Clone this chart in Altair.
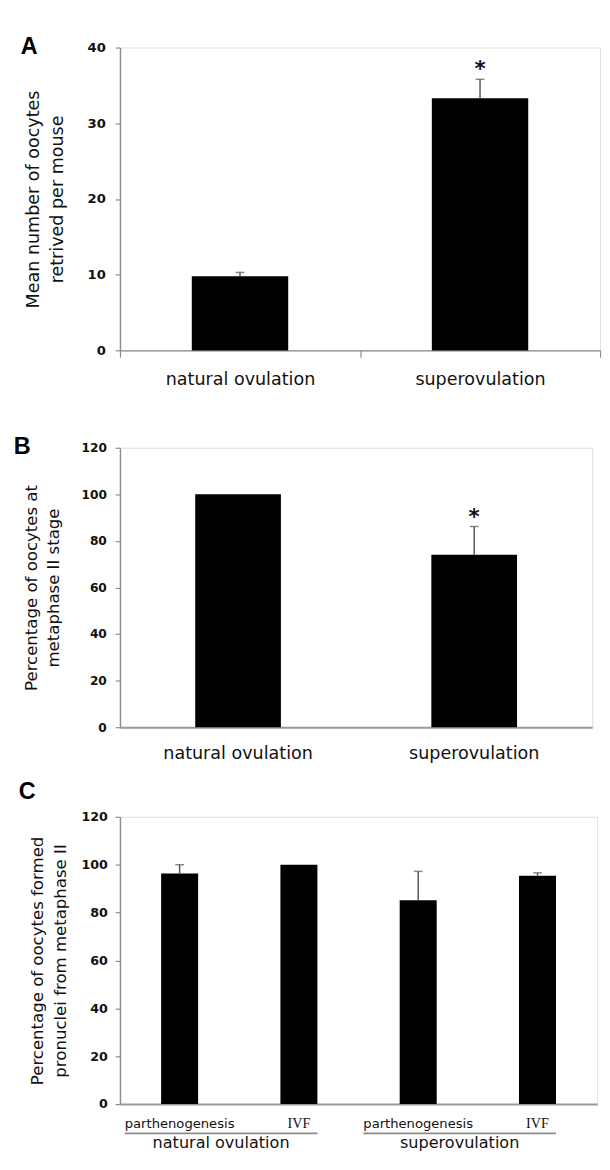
import altair as alt
import pandas as pd

# ---------------- data ----------------
# Panel A
a_groups = ["natural ovulation", "superovulation"]
a_means = [9.8, 33.3]
a_upper = [10.3, 35.8]
a_sig = ["", "*"]
a_ticks = [0, 10, 20, 30, 40]
a_title = ["Mean number of oocytes", "retrived per mouse"]

# Panel B
b_groups = ["natural ovulation", "superovulation"]
b_means = [100.0, 74.1]
b_upper = [100.0, 86.2]
b_sig = ["", "*"]
b_ticks = [0, 20, 40, 60, 80, 100, 120]
b_title = ["Percentage of oocytes at", "metaphase II stage"]

# Panel C
c_keys = ["nat_parth", "nat_ivf", "sup_parth", "sup_ivf"]
c_treat = ["parthenogenesis", "IVF", "parthenogenesis", "IVF"]
c_means = [96.3, 100.0, 85.2, 95.4]
c_upper = [100.0, 100.0, 97.2, 96.6]
c_groups = ["natural ovulation", "superovulation"]
c_group_start = [0, 2]
c_ticks = [0, 20, 40, 60, 80, 100, 120]
c_title = ["Percentage of oocytes formed", "pronuclei from metaphase II"]

FONT = "DejaVu Sans"
AX_GRAY = "#8c8c8c"
ERR_GRAY = "#555555"
TXT = "#111111"


def y_axis(ticks, title, tfs, tx, h, tlh, lfs, lpad):
    return alt.Axis(values=ticks, title=title, grid=False,
                    domainColor=AX_GRAY, domainWidth=1.5,
                    tickColor=AX_GRAY, tickSize=5, tickWidth=1.2,
                    labelFont=FONT, labelFontSize=lfs, labelFontWeight="bold",
                    labelColor=TXT, labelPadding=lpad,
                    titleFont=FONT, titleFontSize=tfs, titleFontWeight="normal",
                    titleColor=TXT, titleX=tx, titleY=h / 2,
                    titleBaseline="alphabetic", titleLineHeight=tlh,
                    titleAlign="center")


def letter(t, x, y):
    return alt.Chart(pd.DataFrame({"t": [t]})).mark_text(
        font="Liberation Sans", fontWeight="bold", fontSize=24,
        align="left", baseline="alphabetic", color="black"
    ).encode(x=alt.value(x), y=alt.value(y), text="t:N")


def two_bar_panel(groups, means, upper, sig, ticks, title, W, H, ymax,
                  bar_size, tfs, tx, tlh, lfs, lpad, xpad, band_ticks,
                  let, let_x, let_y):
    df = pd.DataFrame({"group": groups, "mean": means, "upper": upper, "sig": sig})
    if band_ticks:
        xaxis = alt.Axis(title=None, labelAngle=0, labelFont=FONT, labelFontSize=18,
                         labelColor=TXT, labelPadding=xpad,
                         domainColor=AX_GRAY, domainWidth=1.5,
                         tickBand="extent", tickSize=7, tickColor=AX_GRAY, tickWidth=1.2)
    else:
        xaxis = alt.Axis(title=None, labelAngle=0, labelFont=FONT, labelFontSize=18,
                         labelColor=TXT, labelPadding=xpad,
                         domainColor="#999999", domainWidth=2, ticks=False, tickSize=0)
    x = alt.X("group:N", scale=alt.Scale(domain=groups, paddingInner=0, paddingOuter=0),
              axis=xaxis)
    y = alt.Y("mean:Q", scale=alt.Scale(domain=[0, ymax], nice=False),
              axis=y_axis(ticks, title, tfs, tx, H, tlh, lfs, lpad))
    base = alt.Chart(df)
    bars = base.mark_bar(color="black", size=bar_size).encode(x=x, y=y)
    err = base.transform_filter("datum.upper > datum.mean").mark_rule(
        color=ERR_GRAY, strokeWidth=1.5).encode(x=x, y="mean:Q", y2="upper:Q")
    cap = base.transform_filter("datum.upper > datum.mean").mark_tick(
        color=ERR_GRAY, thickness=1.5, size=9).encode(x=x, y="upper:Q")
    star = base.transform_filter("datum.sig != ''").mark_text(
        font=FONT, fontWeight="bold", fontSize=22, baseline="alphabetic",
        dy=-3, color=TXT).encode(x=x, y="upper:Q", text="sig:N")
    return alt.layer(bars, err, cap, star, letter(let, let_x, let_y)).properties(
        width=W, height=H)


A_W, A_H = 493, 311
B_W, B_H = 485, 287
C_W, C_H = 490, 295

panel_a = two_bar_panel(a_groups, a_means, a_upper, a_sig, a_ticks, a_title,
                        A_W, A_H, 40, 99, 18, -84, 25, 13.5, 10, 14, True,
                        "A", -102, 7)
panel_b = two_bar_panel(b_groups, b_means, b_upper, b_sig, b_ticks, b_title,
                        B_W, B_H, 120, 88, 17, -86, 23, 12.5, 9, 18, False,
                        "B", -109, 6)

# ---------------- panel C ----------------
dfc = pd.DataFrame({"key": c_keys, "treat": c_treat, "mean": c_means, "upper": c_upper})
label_expr = " : ".join(f"datum.value == '{k}' ? '{t}'" for k, t in zip(c_keys, c_treat)) + " : ''"
ivf_keys = [k for k, t in zip(c_keys, c_treat) if t == "IVF"]
ivf_test = " || ".join(f"datum.value == '{k}'" for k in ivf_keys)
xc = alt.X("key:N", scale=alt.Scale(domain=c_keys, paddingInner=0, paddingOuter=0),
           axis=alt.Axis(title=None, labelAngle=0, labelExpr=label_expr,
                         labelFont={"condition": {"test": ivf_test, "value": "Liberation Serif"},
                                    "value": FONT},
                         labelFontSize={"condition": {"test": ivf_test, "value": 14.5},
                                        "value": 13.5},
                         labelColor=TXT, labelPadding=13,
                         domainColor="#999999", domainWidth=2, ticks=False, tickSize=0))
yc = alt.Y("mean:Q", scale=alt.Scale(domain=[0, 120], nice=False),
           axis=y_axis(c_ticks, c_title, 17, -80, C_H, 24, 13, 8))
basec = alt.Chart(dfc)
bars_c = basec.mark_bar(color="black", size=38).encode(x=xc, y=yc)
err_c = basec.transform_filter("datum.upper > datum.mean").mark_rule(
    color=ERR_GRAY, strokeWidth=1.5).encode(x=xc, y="mean:Q", y2="upper:Q")
cap_c = basec.transform_filter("datum.upper > datum.mean").mark_tick(
    color=ERR_GRAY, thickness=1.5, size=9).encode(x=xc, y="upper:Q")
inner_c = alt.layer(bars_c, err_c, cap_c, letter("C", -104, -18))

dfg = pd.DataFrame({"grp": c_groups, "start": c_group_start})
ux = alt.Scale(domain=[0, len(c_keys)], nice=False, zero=False)
grp = alt.Chart(dfg).transform_calculate(
    u0="datum.start + 0.04", u1="datum.start + 1.655", mid="datum.start + 0.8475")
under = grp.mark_rule(color=AX_GRAY, strokeWidth=1.8).encode(
    x=alt.X("u0:Q", scale=ux, axis=None), x2="u1:Q", y=alt.value(C_H + 30))
gtext = grp.mark_text(font=FONT, fontSize=16.5, baseline="alphabetic", color=TXT).encode(
    x=alt.X("mid:Q", scale=ux, axis=None), y=alt.value(C_H + 45), text="grp:N")

panel_c = alt.layer(inner_c, under, gtext).resolve_scale(x="independent").properties(
    width=C_W, height=C_H)

chart = alt.vconcat(
    alt.vconcat(panel_a, panel_b, spacing=46),
    panel_c, spacing=17
).properties(
    padding={"left": 5, "top": 12, "right": 0, "bottom": 0}
).configure_view(stroke=None).configure(background="white")

chart.save("out.html", embed_options={"renderer": "svg", "actions": False})
